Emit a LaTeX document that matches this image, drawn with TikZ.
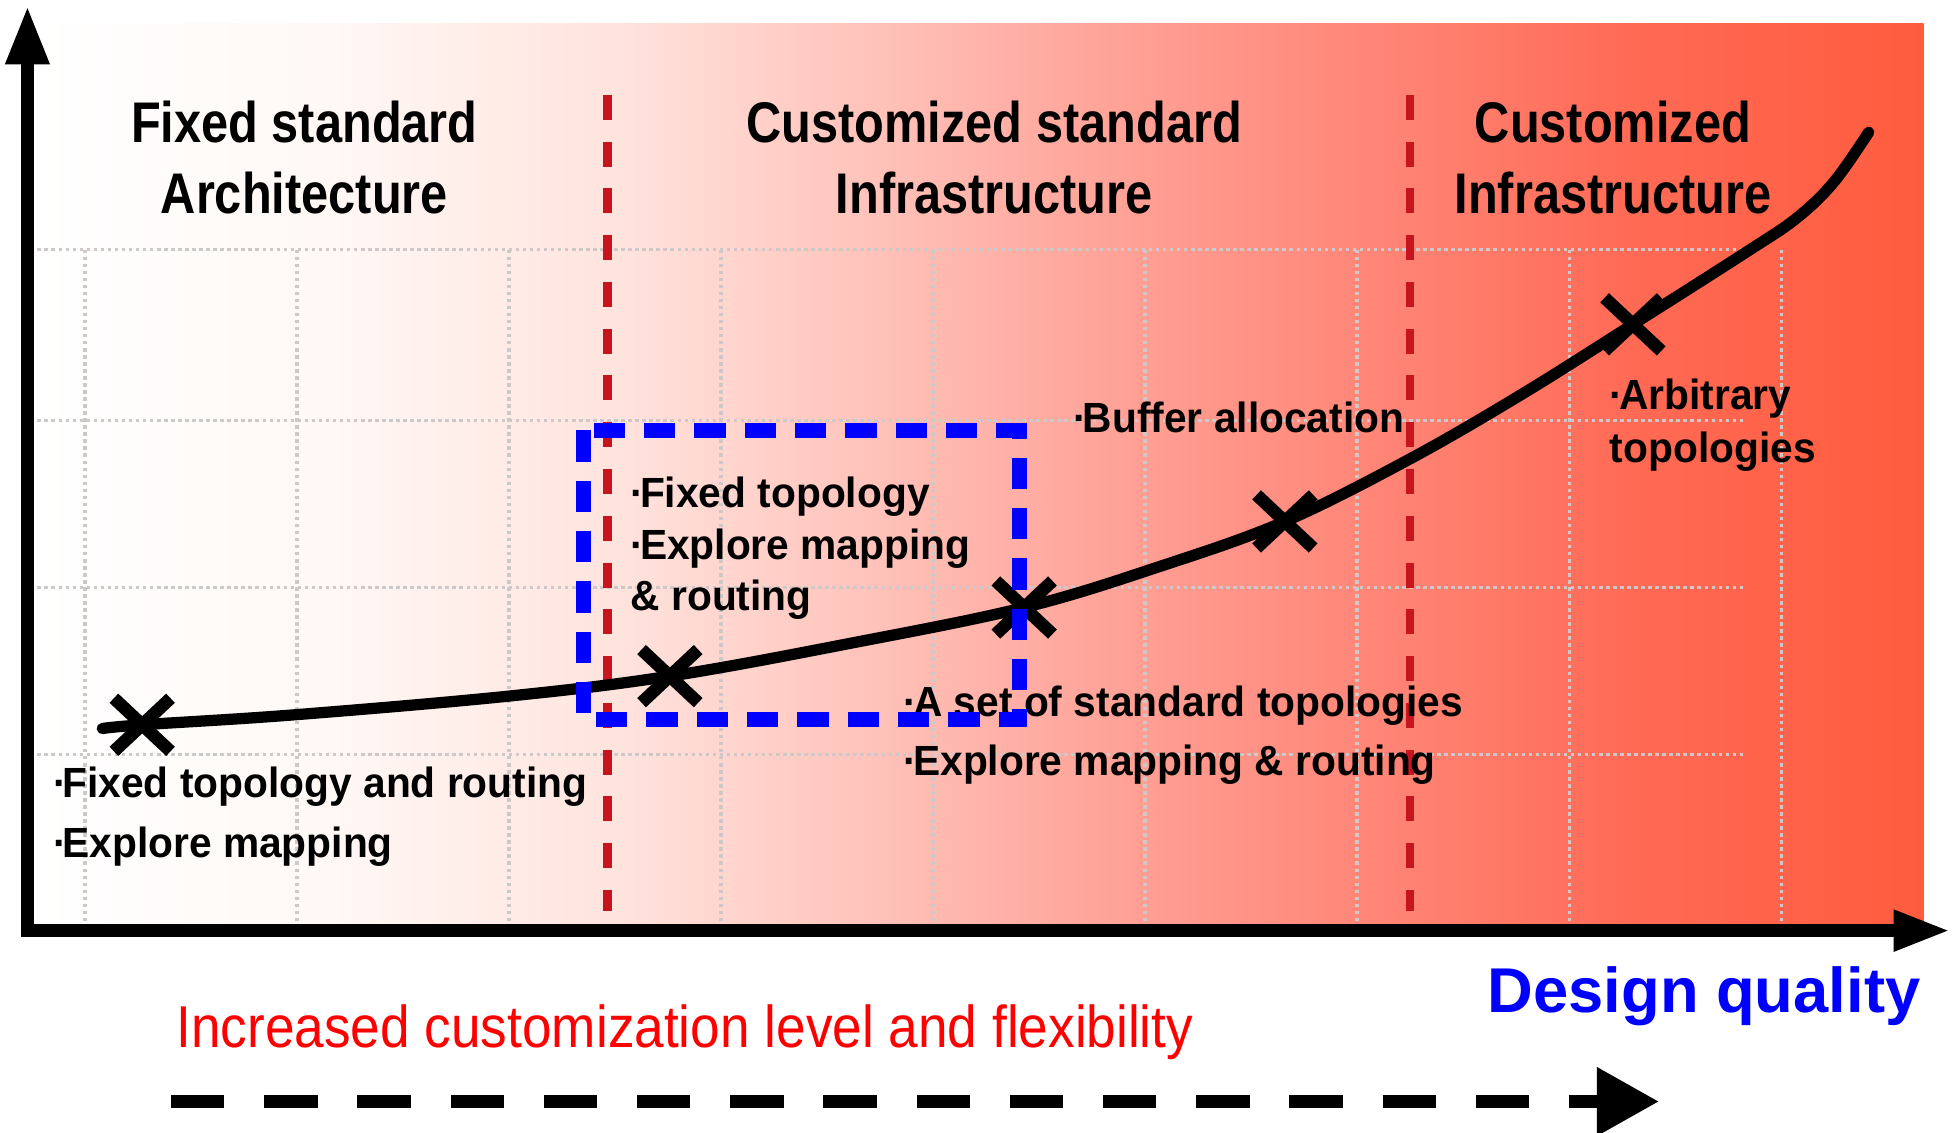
\documentclass[tikz,border=0pt]{standalone}
\usepackage{fontspec}
\setmainfont{Liberation Sans}
\newfontfamily\titlefont[FakeStretch=0.85]{Liberation Sans}
\newfontfamily\bodyfont[FakeStretch=0.965]{Liberation Sans}
\newfontfamily\narrowfont[FakeStretch=0.9]{Liberation Sans}
\usetikzlibrary{arrows.meta,shapes.misc}
\definecolor{bgA}{HTML}{FFF8F5}
\definecolor{bgB}{HTML}{FFE2DC}
\definecolor{bgC}{HTML}{FFC8C0}
\definecolor{bgD}{HTML}{FFADA3}
\definecolor{bgE}{HTML}{FF9488}
\definecolor{bgF}{HTML}{FF8070}
\definecolor{bgG}{HTML}{FF6A55}
\definecolor{bgH}{HTML}{FF5C3E}
\definecolor{zonered}{HTML}{C8141E}
\definecolor{gridcol}{HTML}{CFC8C8}
\definecolor{qualblue}{HTML}{0000FF}
\pgfdeclarehorizontalshading{zonebg}{100bp}{color(0bp)=(white); color(25bp)=(white);
  color(32.8bp)=(bgA); color(40.7bp)=(bgB); color(46bp)=(bgC); color(51.3bp)=(bgD);
  color(56.6bp)=(bgE); color(61.9bp)=(bgF); color(67.2bp)=(bgG); color(75bp)=(bgH); color(100bp)=(bgH)}
\newcommand\bul{·\kern-1.2pt}

\begin{document}
\begin{tikzpicture}[x=0.012474cm, y=-0.012474cm,
    axis/.style={line width=3.5pt, arrows={Triangle[length=16.5pt,width=11.7pt]-Triangle[length=16pt,width=11pt]}},
    gridline/.style={gridcol, line width=1pt, densely dotted},
    zoneline/.style={zonered, line width=2.3pt, dash pattern=on 7.1pt off 6.2pt},
    curve/.style={line width=3.2pt, line cap=round},
    xmark/.style={draw, cross out, line width=3.6pt, minimum width=12.5pt, minimum height=11.5pt, inner sep=0pt},
    titletext/.style={anchor=north, align=center, inner sep=0pt, font=\titlefont\bfseries\fontsize{16.3}{20.2}\selectfont},
    bodytext/.style={anchor=north west, align=left, inner sep=0pt, font=\bodyfont\bfseries\fontsize{12}{17}\selectfont},
    searchbox/.style={qualblue, line width=4.3pt, dash pattern=on 8.9pt off 5.4pt},
    flexarrow/.style={line width=3.9pt, dash pattern=on 15.2pt off 11.3pt, -{Triangle[length=17.7pt,width=18.5pt]}}
  ]
        \useasboundingbox (0,0) rectangle (1568,908);
        % background
            \shade[shading=zonebg] (30,19) rectangle (1542,741);
            \foreach \gx in {68,238,...,1428}{
                \draw[gridline] (\gx,200) -- (\gx,742);
            }
            \foreach \gy in {200,337,471,605}{
                \draw[gridline] (30,\gy) -- (1400,\gy);
            }
            \draw[zoneline] (487,76) -- (487,730);
            \draw[zoneline] (1130,76) -- (1130,730);
        % axes
            \coordinate (origin) at (22,746);
            \coordinate (ytop) at (22,5);
            \coordinate (xend) at (1563,746);
            \draw[axis] (ytop) -- (origin) -- (xend);
        % curve
            \foreach \m/\x/\y in {m1/114/581,m2/537/542,m3/821/487,m4/1030/418,m5/1309/260}{
                \coordinate (\m) at (\x,\y);
            }
            \draw[curve] plot[smooth, tension=0.6] coordinates {(82,584) (m1) (236,573) (408,558) (m2)
                (680,516) (m3) (930,454) (m4) (1130,368) (1220,316) (m5) (1400,202) (1440,175) (1470,146) (1498,106)};
            \foreach \m in {m1,m2,m3,m4,m5}{
                \node[xmark] (\m x) at (\m) {};
            }
        % zone titles
            \node[titletext] (zone1) at (244,80) {Fixed standard\\Architecture};
            \node[titletext] (zone2) at (797,80) {Customized standard\\Infrastructure};
            \node[titletext] (zone3) at (1293,80) {Customized\\Infrastructure};
        % point labels
            \node[bodytext] (fixedall) at (42,614) {\bul Fixed topology and routing\\\bul Explore mapping};
            \node[bodytext, font=\bodyfont\bfseries\fontsize{12}{14.6}\selectfont] (fixedtopo) at (505,382)
                {\bul Fixed topology\\\bul Explore mapping\\\& routing};
            \node[bodytext] (stdtopo) at (724,549) {\bul A set of standard topologies\\\bul Explore mapping \& routing};
            \node[bodytext] (buffer) at (860,322) {\bul Buffer allocation};
            \node[bodytext, font=\bodyfont\bfseries\fontsize{12}{15}\selectfont] (arbtopo) at (1290,303)
                {\bul Arbitrary\\topologies};
        % search space
            \draw[searchbox] (468,345) rectangle (817,577);
        % bottom labels
            \node[anchor=base east, inner sep=0pt, text=qualblue, font=\bfseries\fontsize{18}{22}\selectfont] (quality)
                at (1540,812) {Design quality};
            \node[anchor=base west, inner sep=0pt, text=red, font=\narrowfont\fontsize{16.8}{20}\selectfont] (flexlabel)
                at (141,840) {Increased customization level and flexibility};
            \coordinate (flexstart) at (137,883);
            \coordinate (flexend) at (1330,883);
            \draw[flexarrow] (flexstart) -- (flexend);
\end{tikzpicture}
\end{document}
